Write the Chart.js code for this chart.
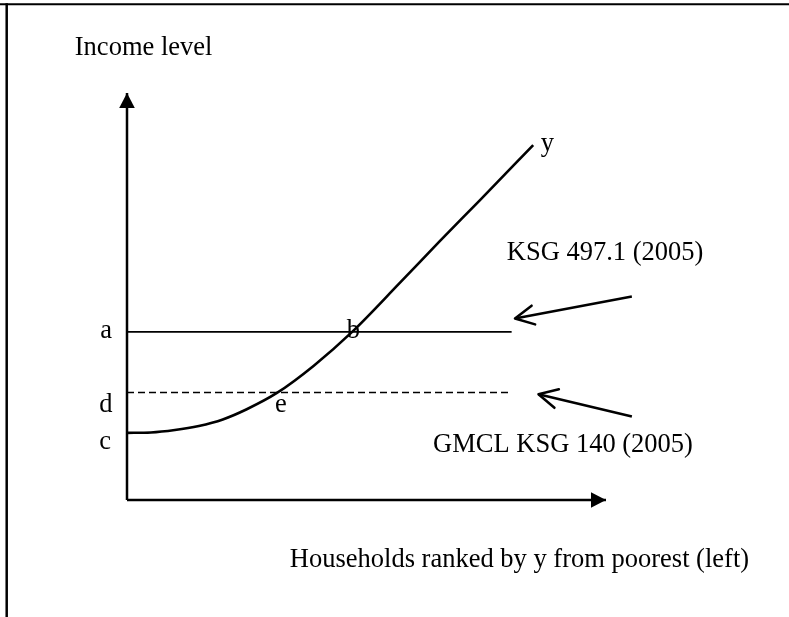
<!DOCTYPE html>
<html>
<head>
<meta charset="utf-8">
<script src="https://cdn.jsdelivr.net/npm/chart.js@4/dist/chart.umd.min.js"></script>
<style>
html,body{margin:0;padding:0;background:#fff;}
canvas{display:block;}
</style>
</head>
<body>
<canvas id="c" width="789" height="617"></canvas>
<script>
// ---- Data (x: households ranked 0-100, y: income level 0-100) ----
const curveX = [0, 5, 10, 15, 20, 25, 31.3, 39, 47, 57, 65.3, 73.7, 84.8];
const curveY = [16.5, 16.6, 17.2, 18.2, 19.8, 22.3, 26.3, 33.0, 41.3, 53.4, 63.6, 73.7, 87.2];

const povertyLineX = [0, 80.3];
const povertyLineY = [41.3, 41.3];   // a — KSG 497.1
const gmclLineX = [0, 80.3];
const gmclLineY = [26.4, 26.4];      // d — GMCL KSG 140

const yAxisX = [0, 0];
const yAxisY = [0, 100];
const xAxisX = [0, 100];
const xAxisY = [0, 0];

const ksgArrowX = [105.4, 81.0];
const ksgArrowY = [50.0, 44.6];
const gmclArrowX = [105.4, 85.9];
const gmclArrowY = [20.5, 26.0];

const labelText = ["Income level", "y", "KSG 497.1 (2005)", "a", "b", "d", "e", "c",
                   "GMCL KSG 140 (2005)", "Households ranked by y from poorest (left)"];
const labelX = [-10.9, 86.4, 79.3, -5.6, 45.9, -5.8, 30.9, -5.8, 63.9, 34.0];
const labelY = [109.3, 85.7, 59.0, 39.8, 39.8, 21.6, 21.6, 12.5, 11.8, -16.4];

const pts = (xs, ys) => xs.map((x, i) => ({x: x, y: ys[i]}));

function lineDs(xs, ys, width, extra) {
  return Object.assign({
    data: pts(xs, ys), showLine: true, borderColor: '#000', backgroundColor: '#000',
    borderWidth: width, pointRadius: 0, pointHoverRadius: 0, fill: false, clip: false, tension: 0
  }, extra || {});
}

const headPlugin = {
  id: 'heads',
  afterDatasetsDraw(chart) {
    const ctx = chart.ctx;
    chart.data.datasets.forEach((ds, i) => {
      if (!ds.head) return;
      const meta = chart.getDatasetMeta(i);
      const n = meta.data.length;
      const tip = meta.data[n - 1], prev = meta.data[n - 2];
      const ang = Math.atan2(prev.y - tip.y, prev.x - tip.x);
      ctx.save();
      ctx.strokeStyle = '#000'; ctx.fillStyle = '#000';
      if (ds.head === 'filled') {
        const len = 15, half = 7.8;
        const bx = tip.x + Math.cos(ang) * len, by = tip.y + Math.sin(ang) * len;
        const px = -Math.sin(ang) * half, py = Math.cos(ang) * half;
        ctx.beginPath();
        ctx.moveTo(tip.x, tip.y);
        ctx.lineTo(bx + px, by + py);
        ctx.lineTo(bx - px, by - py);
        ctx.closePath();
        ctx.fill();
      } else {
        const len = 21, spread = 27 * Math.PI / 180;
        ctx.lineWidth = 2.5; ctx.lineCap = 'round'; ctx.lineJoin = 'round';
        ctx.beginPath();
        ctx.moveTo(tip.x + Math.cos(ang - spread) * len, tip.y + Math.sin(ang - spread) * len);
        ctx.lineTo(tip.x, tip.y);
        ctx.lineTo(tip.x + Math.cos(ang + spread) * len, tip.y + Math.sin(ang + spread) * len);
        ctx.stroke();
      }
      ctx.restore();
    });
  }
};

const textPlugin = {
  id: 'texts',
  afterDraw(chart) {
    const ctx = chart.ctx;
    const xs = chart.scales.x, ys = chart.scales.y;
    ctx.save();
    // page frame
    ctx.strokeStyle = '#000';
    ctx.lineWidth = 2;
    ctx.beginPath();
    ctx.moveTo(0, 4.3); ctx.lineTo(789, 4.3);
    ctx.stroke();
    ctx.lineWidth = 2.5;
    ctx.beginPath();
    ctx.moveTo(6.7, 3.3); ctx.lineTo(6.7, 617);
    ctx.stroke();
    // labels
    ctx.fillStyle = '#000';
    ctx.font = '26.5px "Liberation Serif", "Times New Roman", serif';
    ctx.textBaseline = 'alphabetic';
    ctx.textAlign = 'left';
    labelText.forEach((t, i) => {
      ctx.fillText(t, xs.getPixelForValue(labelX[i]), ys.getPixelForValue(labelY[i]));
    });
    ctx.restore();
  }
};

new Chart(document.getElementById('c'), {
  type: 'scatter',
  data: {
    datasets: [
      lineDs(yAxisX, yAxisY, 2.5, {head: 'filled'}),
      lineDs(xAxisX, xAxisY, 2.5, {head: 'filled'}),
      lineDs(povertyLineX, povertyLineY, 1.6),
      lineDs(gmclLineX, gmclLineY, 1.6, {borderDash: [7, 4]}),
      lineDs(curveX, curveY, 2.6, {cubicInterpolationMode: 'monotone'}),
      lineDs(ksgArrowX, ksgArrowY, 2.5, {head: 'open'}),
      lineDs(gmclArrowX, gmclArrowY, 2.5, {head: 'open'})
    ]
  },
  options: {
    responsive: false,
    animation: false,
    events: [],
    layout: {padding: {left: 127, right: 183, top: 93, bottom: 117}},
    plugins: {legend: {display: false}, tooltip: {enabled: false}, title: {display: false}},
    scales: {
      x: {type: 'linear', min: 0, max: 100, display: false},
      y: {type: 'linear', min: 0, max: 100, display: false}
    }
  },
  plugins: [headPlugin, textPlugin]
});
</script>
</body>
</html>
